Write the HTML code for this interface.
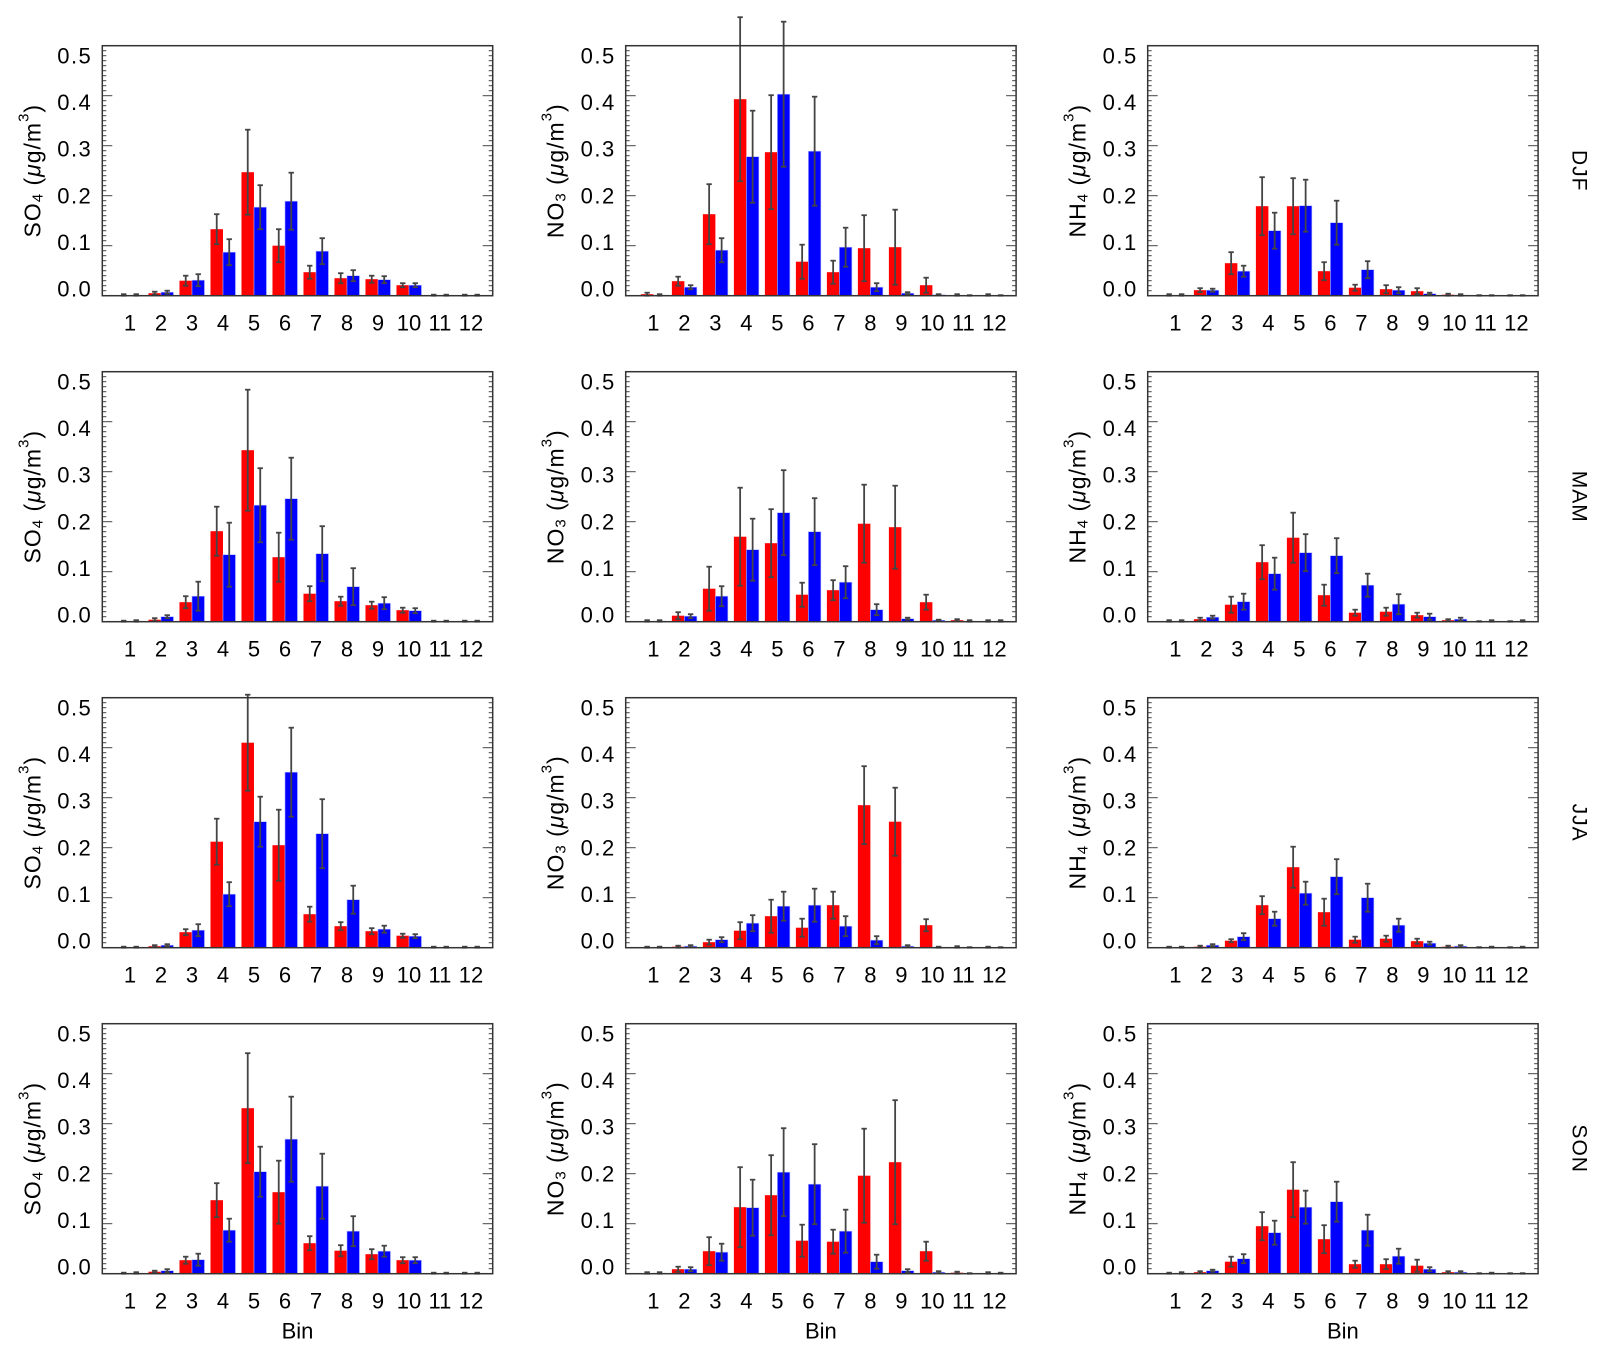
<!DOCTYPE html>
<html><head><meta charset="utf-8">
<style>
html,body{margin:0;padding:0;background:#fff;}
svg{display:block;font-family:"Liberation Sans",sans-serif;}
</style></head>
<body>
<svg id="fig" width="1604" height="1353" viewBox="0 0 1604 1353" xmlns="http://www.w3.org/2000/svg"></svg>
<script>
// ---- data (bins 1..12) ----
const bins = [1,2,3,4,5,6,7,8,9,10,11,12];
const yTicks = [0.0,0.1,0.2,0.3,0.4,0.5];
const yTickLabels = ["0.0","0.1","0.2","0.3","0.4","0.5"];
const species = ["SO4","NO3","NH4"];
const seasons = ["DJF","MAM","JJA","SON"];

// SO4
const so4DjfRed = [0.001,0.005,0.03,0.133,0.247,0.10,0.047,0.035,0.033,0.021,0,0];
const so4DjfRedErr = [0.002,0.003,0.01,0.03,0.085,0.033,0.013,0.01,0.007,0.004,0.002,0.002];
const so4DjfBlue = [0.001,0.007,0.031,0.087,0.177,0.189,0.089,0.04,0.032,0.021,0,0];
const so4DjfBlueErr = [0.002,0.003,0.012,0.026,0.044,0.057,0.026,0.011,0.007,0.004,0.002,0.002];
const so4MamRed = [0,0.004,0.039,0.181,0.343,0.129,0.056,0.041,0.033,0.023,0,0];
const so4MamRedErr = [0.002,0.003,0.012,0.049,0.121,0.049,0.015,0.009,0.007,0.005,0.002,0.002];
const so4MamBlue = [0.001,0.01,0.051,0.134,0.233,0.246,0.136,0.07,0.037,0.022,0,0];
const so4MamBlueErr = [0.002,0.003,0.029,0.064,0.074,0.082,0.055,0.037,0.012,0.005,0.002,0.002];
const so4JjaRed = [0,0.003,0.031,0.212,0.41,0.205,0.067,0.043,0.033,0.024,0,0];
const so4JjaRedErr = [0.002,0.002,0.006,0.046,0.096,0.071,0.015,0.008,0.006,0.004,0.002,0.002];
const so4JjaBlue = [0,0.005,0.035,0.107,0.252,0.351,0.228,0.096,0.037,0.023,0,0];
const so4JjaBlueErr = [0.002,0.002,0.012,0.024,0.05,0.089,0.069,0.028,0.007,0.004,0.002,0.002];
const so4SonRed = [0,0.004,0.027,0.147,0.331,0.163,0.061,0.046,0.039,0.027,0,0];
const so4SonRedErr = [0.002,0.002,0.007,0.034,0.11,0.063,0.014,0.011,0.01,0.006,0.002,0.002];
const so4SonBlue = [0.001,0.006,0.028,0.087,0.204,0.269,0.175,0.085,0.045,0.027,0,0];
const so4SonBlueErr = [0.002,0.003,0.012,0.023,0.05,0.085,0.065,0.03,0.011,0.006,0.002,0.002];
// NO3
const no3DjfRed = [0.003,0.029,0.163,0.393,0.287,0.068,0.047,0.095,0.097,0.021,0.001,0.001];
const no3DjfRedErr = [0.003,0.009,0.06,0.164,0.114,0.034,0.023,0.066,0.075,0.015,0.002,0.002];
const no3DjfBlue = [0.001,0.017,0.091,0.278,0.403,0.289,0.097,0.017,0.005,0.002,0,0];
const no3DjfBlueErr = [0.002,0.004,0.024,0.092,0.145,0.109,0.039,0.008,0.002,0.001,0.001,0.001];
const no3MamRed = [0.001,0.012,0.066,0.17,0.157,0.054,0.063,0.196,0.189,0.039,0.003,0.001];
const no3MamRedErr = [0.002,0.007,0.044,0.098,0.068,0.024,0.02,0.078,0.083,0.015,0.002,0.002];
const no3MamBlue = [0.001,0.011,0.051,0.144,0.218,0.18,0.079,0.024,0.006,0.003,0.001,0.001];
const no3MamBlueErr = [0.002,0.004,0.02,0.062,0.085,0.067,0.032,0.011,0.002,0.001,0.002,0.002];
const no3JjaRed = [0,0.002,0.011,0.034,0.063,0.04,0.085,0.285,0.252,0.045,0.001,0];
const no3JjaRedErr = [0.002,0.002,0.005,0.017,0.033,0.018,0.027,0.078,0.068,0.012,0.002,0.002];
const no3JjaBlue = [0,0.003,0.016,0.049,0.083,0.085,0.043,0.015,0.003,0.001,0,0];
const no3JjaBlueErr = [0.002,0.002,0.005,0.016,0.029,0.033,0.02,0.008,0.002,0.001,0.001,0.001];
const no3SonRed = [0.001,0.009,0.045,0.133,0.157,0.066,0.064,0.196,0.223,0.045,0.002,0.001];
const no3SonRedErr = [0.002,0.005,0.028,0.08,0.08,0.032,0.024,0.094,0.124,0.019,0.002,0.002];
const no3SonBlue = [0.001,0.009,0.043,0.132,0.203,0.179,0.085,0.024,0.006,0.003,0,0.001];
const no3SonBlueErr = [0.002,0.004,0.017,0.056,0.088,0.08,0.043,0.014,0.003,0.002,0.001,0.001];
// NH4
const nh4DjfRed = [0.001,0.011,0.065,0.179,0.179,0.049,0.016,0.013,0.009,0.002,0,0];
const nh4DjfRedErr = [0.002,0.004,0.022,0.058,0.056,0.018,0.006,0.008,0.006,0.002,0.001,0.001];
const nh4DjfBlue = [0.001,0.011,0.049,0.13,0.18,0.146,0.052,0.011,0.004,0.001,0,0];
const nh4DjfBlueErr = [0.002,0.003,0.011,0.036,0.052,0.044,0.017,0.006,0.002,0.002,0.001,0.001];
const nh4MamRed = [0.001,0.005,0.034,0.119,0.168,0.053,0.018,0.02,0.013,0.003,0,0];
const nh4MamRedErr = [0.002,0.003,0.016,0.034,0.05,0.021,0.006,0.008,0.005,0.002,0.001,0.001];
const nh4MamBlue = [0.001,0.009,0.04,0.096,0.138,0.132,0.073,0.035,0.01,0.005,0.001,0.001];
const nh4MamBlueErr = [0.002,0.003,0.016,0.032,0.037,0.035,0.023,0.02,0.006,0.003,0.002,0.002];
const nh4JjaRed = [0,0.002,0.014,0.085,0.161,0.071,0.016,0.018,0.013,0.002,0,0];
const nh4JjaRedErr = [0.002,0.002,0.003,0.018,0.041,0.027,0.006,0.006,0.005,0.002,0.001,0.001];
const nh4JjaBlue = [0,0.005,0.022,0.058,0.109,0.142,0.1,0.045,0.009,0.003,0.001,0.001];
const nh4JjaBlueErr = [0.002,0.002,0.007,0.014,0.023,0.035,0.028,0.013,0.003,0.002,0.001,0.001];
const nh4SonRed = [0,0.003,0.024,0.095,0.168,0.069,0.019,0.019,0.016,0.003,0,0];
const nh4SonRedErr = [0.002,0.002,0.01,0.028,0.055,0.028,0.007,0.01,0.012,0.002,0.001,0.001];
const nh4SonBlue = [0.001,0.006,0.03,0.082,0.133,0.144,0.087,0.035,0.009,0.003,0.001,0];
const nh4SonBlueErr = [0.002,0.002,0.009,0.024,0.033,0.04,0.031,0.015,0.004,0.002,0.001,0.001];

const panelRed = [
  [so4DjfRed,no3DjfRed,nh4DjfRed],[so4MamRed,no3MamRed,nh4MamRed],
  [so4JjaRed,no3JjaRed,nh4JjaRed],[so4SonRed,no3SonRed,nh4SonRed]];
const panelRedErr = [
  [so4DjfRedErr,no3DjfRedErr,nh4DjfRedErr],[so4MamRedErr,no3MamRedErr,nh4MamRedErr],
  [so4JjaRedErr,no3JjaRedErr,nh4JjaRedErr],[so4SonRedErr,no3SonRedErr,nh4SonRedErr]];
const panelBlue = [
  [so4DjfBlue,no3DjfBlue,nh4DjfBlue],[so4MamBlue,no3MamBlue,nh4MamBlue],
  [so4JjaBlue,no3JjaBlue,nh4JjaBlue],[so4SonBlue,no3SonBlue,nh4SonBlue]];
const panelBlueErr = [
  [so4DjfBlueErr,no3DjfBlueErr,nh4DjfBlueErr],[so4MamBlueErr,no3MamBlueErr,nh4MamBlueErr],
  [so4JjaBlueErr,no3JjaBlueErr,nh4JjaBlueErr],[so4SonBlueErr,no3SonBlueErr,nh4SonBlueErr]];

// ---- layout ----
const NS = "http://www.w3.org/2000/svg";
const svg = document.getElementById("fig");
const colLeft = [102.3, 625.7, 1147.7];
const rowTop = [45.7, 371.7, 697.7, 1023.7];
const PW = 390.4, PH = 250, YMAX = 0.5, BINW = 31, BARW = 12.5;

function mk(tag, attrs, parent) {
  const e = document.createElementNS(NS, tag);
  for (const k in attrs) e.setAttribute(k, attrs[k]);
  (parent || svg).appendChild(e);
  return e;
}

for (let r = 0; r < 4; r++) {
  for (let c = 0; c < 3; c++) {
    const L = colLeft[c], T = rowTop[r], B = T + PH;
    const xs = b => L + (b - 0.107) * BINW;
    const ys = v => B - v / YMAX * PH;
    const g = mk("g", {});
    
    

    for (let k = 0; k <= 50; k++) {
      const y = ys(k * 0.01);
      const len = (k % 10 === 0) ? 10 : 4;
      mk("line", {x1: L, x2: L + len, y1: y, y2: y, stroke: "#444", "stroke-width": 1}, g);
      mk("line", {x1: L + PW - len, x2: L + PW, y1: y, y2: y, stroke: "#444", "stroke-width": 1}, g);
    }

    const red = panelRed[r][c], redE = panelRedErr[r][c];
    const blue = panelBlue[r][c], blueE = panelBlueErr[r][c];
    bins.forEach((b, i) => {
      const cx = xs(b);
      const rb = mk("rect", {x: cx - BARW, y: ys(red[i]), width: BARW, height: B - ys(red[i]), fill: "#ff0000"}, g);
      
      
      const bb = mk("rect", {x: cx, y: ys(blue[i]), width: BARW, height: B - ys(blue[i]), fill: "#0000ff", stroke: "#b0b8ff", "stroke-width": 0.6}, g);
      
      
    });
    bins.forEach((b, i) => {
      const cx = xs(b);
      [[cx - BARW / 2, red[i], redE[i], 'red'], [cx + BARW / 2, blue[i], blueE[i], 'blue']].forEach(([ex, v, e, s]) => {
        const y1 = ys(v + e), y2 = ys(Math.max(v - e, 0));
        const eg = mk("g", {stroke: "#444", "stroke-width": 1.8}, g);
        
        
        mk("line", {x1: ex, x2: ex, y1: y1, y2: y2}, eg);
        mk("line", {x1: ex - 2.7, x2: ex + 2.7, y1: y1, y2: y1}, eg);
        mk("line", {x1: ex - 2.7, x2: ex + 2.7, y1: y2, y2: y2}, eg);
      });
    });

    const box = mk("rect", {x: L, y: T, width: PW, height: PH, fill: "none", stroke: "#333", "stroke-width": 1.5}, g);
    
    

    yTicks.forEach((v, k) => {
      const t = mk("text", {x: L - 10, y: B - 6.7 - v * 466, "text-anchor": "end", "dominant-baseline": "central", "font-size": 22, "letter-spacing": 1.5, fill: "#000"}, g);
      t.textContent = yTickLabels[k];
      
      
    });
    bins.forEach(b => {
      const t = mk("text", {x: xs(b), y: B + 35, "text-anchor": "middle", "font-size": 22, fill: "#000"}, g);
      t.textContent = String(b);
      
      
    });
    const cy = T + PH / 2, tx = L - 70;
    const yt = mk("text", {x: tx, y: cy, "text-anchor": "middle", "dominant-baseline": "central", "font-size": 23, "letter-spacing": 1, fill: "#000", transform: `rotate(-90 ${tx} ${cy})`}, g);
    
    
    const nm = species[c].slice(0, 2), sub = species[c].slice(2);
    yt.innerHTML = `${nm}<tspan font-size="15" dy="5">${sub}</tspan><tspan dy="-5"> (</tspan><tspan font-style="italic">μ</tspan><tspan>g/m</tspan><tspan font-size="15" dy="-9">3</tspan><tspan dy="9">)</tspan>`;

    if (r === 3) {
      const bt = mk("text", {x: L + PW / 2, y: B + 65, "text-anchor": "middle", "font-size": 22, fill: "#000"}, g);
      bt.textContent = "Bin";
      
      
    }
    if (c === 2) {
      const sx = 1579;
      const st = mk("text", {x: sx, y: cy, "text-anchor": "middle", "dominant-baseline": "central", "font-size": 21, "letter-spacing": 1, fill: "#000", transform: `rotate(90 ${sx} ${cy})`});
      st.textContent = seasons[r];
      
      
    }
  }
}
</script>
</body></html>
